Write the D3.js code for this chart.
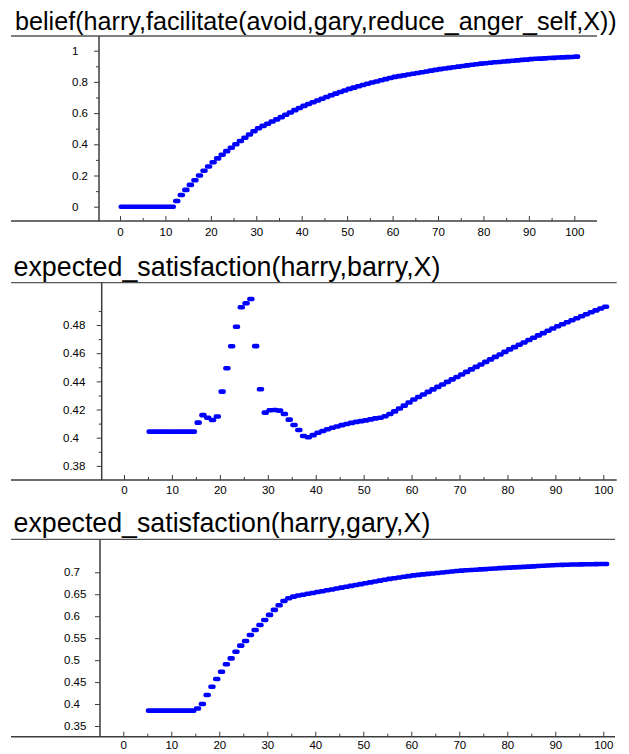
<!DOCTYPE html>
<html>
<head>
<meta charset="utf-8">
<script src="https://cdn.jsdelivr.net/npm/d3@7"></script>
<style>
  html, body { margin: 0; padding: 0; background: #fff; }
  svg { display: block; }
  text { font-family: "Liberation Sans", Arial, sans-serif; fill: #000; }
</style>
</head>
<body>
<svg id="chart" width="629" height="754"></svg>
<script>
// ---------------- DATA ----------------
const titles = [
  "belief(harry,facilitate(avoid,gary,reduce_anger_self,X))",
  "expected_satisfaction(harry,barry,X)",
  "expected_satisfaction(harry,gary,X)"
];

const xTickLabels = [0, 10, 20, 30, 40, 50, 60, 70, 80, 90, 100];
const xMinorTicks = [5, 15, 25, 35, 45, 55, 65, 75, 85, 95];

const yTicksBelief = [0, 0.2, 0.4, 0.6, 0.8, 1];
const yMinorBelief = [0.1, 0.3, 0.5, 0.7, 0.9];
const yTicksBarry = [0.38, 0.4, 0.42, 0.44, 0.46, 0.48];
const yMinorBarry = [0.39, 0.41, 0.43, 0.45, 0.47, 0.49];
const yTicksGary = [0.35, 0.4, 0.45, 0.5, 0.55, 0.6, 0.65, 0.7];
const yMinorGary = [];

// X starts (values are at consecutive integer X)
const beliefStartX = 0;
const beliefValues = [
  0, 0, 0, 0, 0, 0, 0, 0, 0, 0, 0, 0,
  0.037, 0.075, 0.108, 0.14, 0.17, 0.2, 0.23, 0.258, 0.285,
  0.31, 0.333, 0.356, 0.378, 0.4, 0.421, 0.442, 0.463, 0.484, 0.503,
  0.518, 0.532, 0.546, 0.56, 0.574, 0.589, 0.604, 0.619, 0.633, 0.646,
  0.658, 0.67, 0.681, 0.692, 0.703, 0.714, 0.725, 0.735, 0.745, 0.755,
  0.763, 0.772, 0.78, 0.788, 0.796, 0.803, 0.811, 0.818, 0.825, 0.832,
  0.837, 0.842, 0.847, 0.852, 0.857, 0.862, 0.867, 0.872, 0.877, 0.882,
  0.886, 0.89, 0.894, 0.898, 0.902, 0.906, 0.91, 0.913, 0.917, 0.92,
  0.923, 0.926, 0.928, 0.931, 0.933, 0.936, 0.938, 0.941, 0.943, 0.946,
  0.948, 0.949, 0.951, 0.953, 0.954, 0.956, 0.957, 0.959, 0.96, 0.962
];

const barryStartX = 5;
const barryValues = [
  0.4043, 0.4043, 0.4043, 0.4043, 0.4043, 0.4043, 0.4043, 0.4043, 0.4043, 0.4043,
  0.4107, 0.416, 0.4142, 0.4126, 0.415, 0.4327, 0.4493, 0.4649, 0.4788, 0.4926,
  0.4954, 0.4985, 0.465, 0.4344, 0.4178, 0.4195, 0.4197, 0.4192, 0.4168, 0.4128,
  0.409, 0.4055, 0.4012, 0.4003, 0.4018, 0.4035, 0.4048, 0.406, 0.4071, 0.408,
  0.4089, 0.4097, 0.4105, 0.4112, 0.4118, 0.4123, 0.413, 0.4137, 0.4142, 0.4152,
  0.4168, 0.4187, 0.4207, 0.4228, 0.425, 0.4271, 0.4289, 0.4307, 0.4325, 0.4343,
  0.4361, 0.4378, 0.4396, 0.4414, 0.4431, 0.4449, 0.4467, 0.4485, 0.4503, 0.452,
  0.4538, 0.4556, 0.4574, 0.4591, 0.4609, 0.4627, 0.4643, 0.466, 0.4676, 0.4693,
  0.4709, 0.4726, 0.4742, 0.4759, 0.4775, 0.4791, 0.4805, 0.482, 0.4834, 0.4848,
  0.4862, 0.4876, 0.489, 0.4904, 0.4917, 0.493
];

const garyStartX = 5;
const garyValues = [
  0.385, 0.385, 0.385, 0.385, 0.385, 0.385, 0.385, 0.385, 0.385, 0.385,
  0.39, 0.40, 0.4206, 0.4395, 0.457, 0.4737, 0.4905, 0.504, 0.519, 0.533,
  0.5436, 0.5573, 0.5687, 0.58, 0.5915, 0.603, 0.6145, 0.625, 0.6345, 0.641,
  0.6445, 0.647, 0.649, 0.651, 0.653, 0.655, 0.657, 0.659, 0.661, 0.663,
  0.665, 0.667, 0.669, 0.671, 0.673, 0.675, 0.677, 0.679, 0.681, 0.683,
  0.685, 0.6866, 0.6882, 0.6898, 0.6914, 0.693, 0.6941, 0.6952, 0.6963, 0.6974,
  0.6985, 0.6996, 0.7007, 0.7018, 0.7028, 0.7038, 0.7045, 0.7052, 0.7059, 0.7066,
  0.7073, 0.708, 0.7087, 0.7094, 0.71, 0.7106, 0.7112, 0.7118, 0.7124, 0.713,
  0.7136, 0.7142, 0.7148, 0.7155, 0.7161, 0.7167, 0.717, 0.7173, 0.7176, 0.7179,
  0.7181, 0.7183, 0.7185, 0.7187, 0.7189, 0.719
];

// ---------------- LAYOUT ----------------
const panels = [
  { title: titles[0], start: beliefStartX, values: beliefValues,
    yTicks: yTicksBelief, yMinor: yMinorBelief,
    titleX: 15, titleBase: 29.5, titleW: 602,
    lineY: 36, lineX1: 11, lineX2: 597, axisX: 99, axisY: 221,
    xr: [120, 574.3], ydom: [0, 1], yr: [206.7, 50.7], labelX: 72, xPad: 7 },
  { title: titles[1], start: barryStartX, values: barryValues,
    yTicks: yTicksBarry, yMinor: yMinorBarry,
    titleX: 13.5, titleBase: 276, titleW: 427,
    lineY: 282.7, lineX1: 11, lineX2: 616.7, axisX: 101.7, axisY: 480,
    xr: [124, 603.3], ydom: [0.40, 0.48], yr: [437.7, 325], labelX: 63, xPad: 6 },
  { title: titles[2], start: garyStartX, values: garyValues,
    yTicks: yTicksGary, yMinor: yMinorGary,
    titleX: 13.5, titleBase: 531.7, titleW: 417,
    lineY: 539.3, lineX1: 11, lineX2: 615, axisX: 100, axisY: 736.7,
    xr: [123.3, 603.3], ydom: [0.35, 0.7], yr: [726, 572.3], labelX: 64, xPad: 4.5 }
];

const svg = d3.select("#chart");
const fmt = d => String(+d.toFixed(3));

panels.forEach(p => {
  const g = svg.append("g");
  const x = d3.scaleLinear().domain([0, 100]).range(p.xr);
  const y = d3.scaleLinear().domain(p.ydom).range(p.yr);

  // title
  const t = g.append("text")
    .attr("x", p.titleX).attr("y", p.titleBase)
    .style("font-size", "20px")
    .text(p.title);
  const w = t.node().getComputedTextLength();
  t.style("font-size", (20 * p.titleW / w).toFixed(2) + "px");

  // frame lines
  const lineCol = "#3c3c3c";
  g.append("line").attr("x1", p.lineX1).attr("x2", p.lineX2)
    .attr("y1", p.lineY).attr("y2", p.lineY)
    .attr("stroke", "#555").attr("stroke-width", 1.3);
  g.append("line").attr("x1", p.lineX1).attr("x2", p.lineX2)
    .attr("y1", p.axisY).attr("y2", p.axisY)
    .attr("stroke", lineCol).attr("stroke-width", 1.5);
  g.append("line").attr("x1", p.axisX).attr("x2", p.axisX)
    .attr("y1", p.lineY).attr("y2", p.axisY)
    .attr("stroke", lineCol).attr("stroke-width", 1.5);

  // x axis (ticks pointing up, labels below)
  const xa = g.append("g").attr("transform", `translate(0,${p.axisY})`)
    .call(d3.axisBottom(x).tickValues(xTickLabels).tickSize(-5)
      .tickPadding(p.xPad).tickFormat(d3.format("d")));
  xa.select(".domain").remove();
  xa.selectAll(".tick line").attr("stroke", lineCol);
  xa.selectAll("text").style("font-size", "11.5px").attr("fill", "#000")
    .style("font-family", "'Liberation Sans', Arial, sans-serif");
  const xm = g.append("g").attr("transform", `translate(0,${p.axisY})`)
    .call(d3.axisBottom(x).tickValues(xMinorTicks).tickSize(-3).tickFormat(""));
  xm.select(".domain").remove();
  xm.selectAll(".tick line").attr("stroke", lineCol);

  // y axis (ticks pointing left, labels left-aligned)
  const ya = g.append("g").attr("transform", `translate(${p.axisX},0)`)
    .call(d3.axisLeft(y).tickValues(p.yTicks).tickSize(5).tickFormat(fmt));
  ya.select(".domain").remove();
  ya.selectAll(".tick line").attr("stroke", lineCol);
  ya.selectAll("text").style("font-size", "11.5px").attr("fill", "#000")
    .attr("text-anchor", "start").attr("x", p.labelX - p.axisX)
    .style("font-family", "'Liberation Sans', Arial, sans-serif");
  if (p.yMinor.length) {
    const ym = g.append("g").attr("transform", `translate(${p.axisX},0)`)
      .call(d3.axisLeft(y).tickValues(p.yMinor).tickSize(3).tickFormat(""));
    ym.select(".domain").remove();
    ym.selectAll(".tick line").attr("stroke", lineCol);
  }

  // points
  const pts = p.values.map((v, i) => ({ x: p.start + i, v }));
  g.append("g").selectAll("rect").data(pts).join("rect")
    .attr("x", d => x(d.x) - 1.5)
    .attr("y", d => y(d.v) - 2.3)
    .attr("width", 7.5).attr("height", 4.6)
    .attr("rx", 2).attr("ry", 2)
    .attr("fill", "#0000ff");
});
</script>
</body>
</html>
